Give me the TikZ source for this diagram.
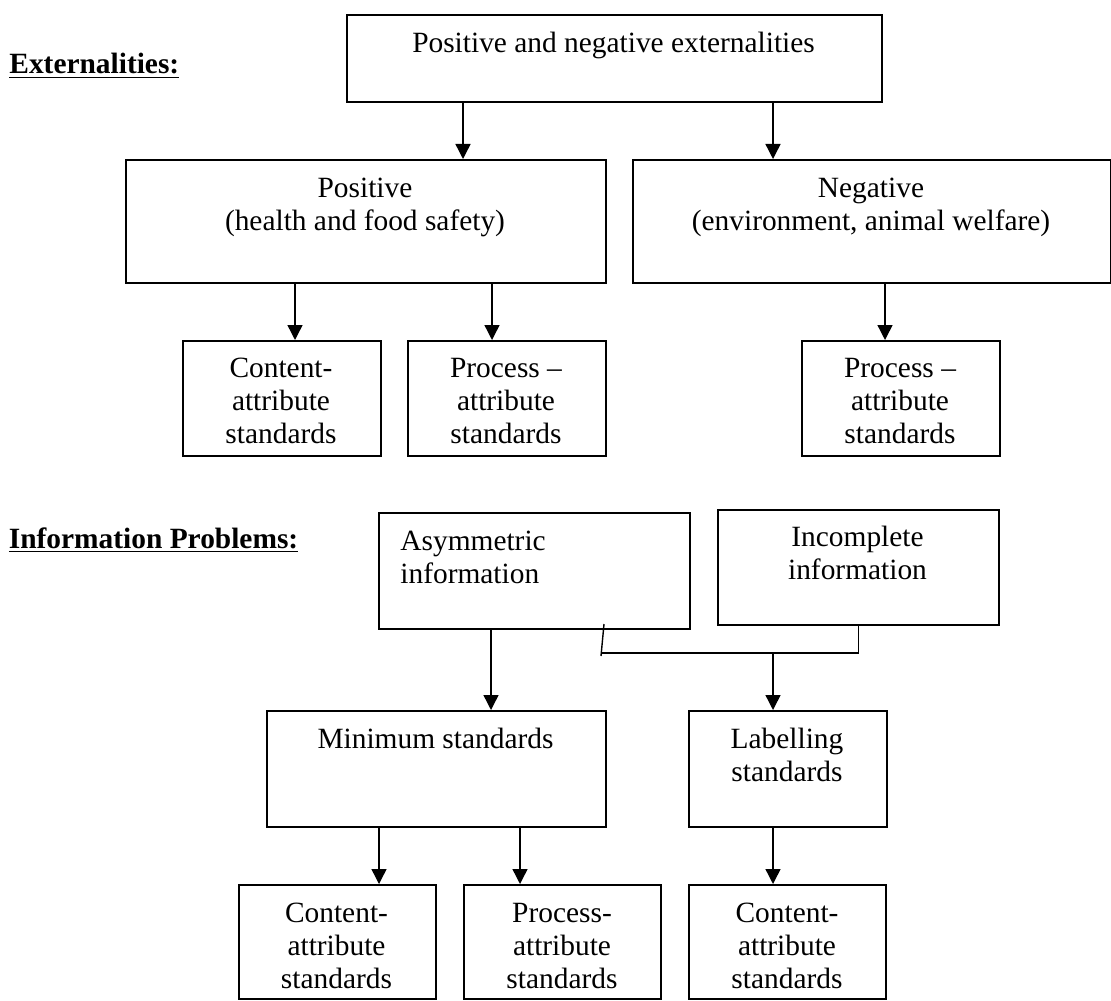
\documentclass[tikz,border=0pt]{standalone}
\usepackage{fontspec}
\setmainfont{Liberation Serif}
\usetikzlibrary{arrows.meta}

\begin{document}
\begin{tikzpicture}[x=0.5pt,y=-0.5pt,
  box/.style={draw, line width=1pt, anchor=north west, inner sep=0pt},
  txt/.style={anchor=base, align=center, inner sep=0pt, font=\fontsize{14.7}{16.5}\selectfont},
  head/.style={txt, anchor=base west, font=\fontsize{14.7}{16.5}\selectfont\bfseries},
  arr/.style={line width=0.7pt, -{Triangle[length=7.5pt,width=7.5pt]}},
  lnk/.style={line width=0.7pt}]
% Page size in pixels of the original
\useasboundingbox (0,0) rectangle (1111,1000);

% Externalities (text nodes sit on the baseline of their last line)
\node[head] (extHead) at (9,74) {\underline{Externalities:}};
\node[box, minimum width=267.5pt, minimum height=43.5pt] (ext) at (346,14) {};
\node[txt] (extT) at (613.5,53) {Positive and negative externalities};
\node[box, minimum width=240pt, minimum height=61.5pt] (pos) at (125,159) {};
\node[txt] (posT) at (365,230) {Positive\\(health and food safety)};
\node[box, minimum width=239pt, minimum height=61.5pt] (neg) at (632,159) {};
\node[txt] (negT) at (871,230) {Negative\\(environment, animal welfare)};
\node[box, minimum width=99pt, minimum height=57.5pt] (pcont) at (182,340) {};
\node[txt] (pcontT) at (281,443) {Content-\\attribute\\standards};
\node[box, minimum width=99pt, minimum height=57.5pt] (pproc) at (407,340) {};
\node[txt] (pprocT) at (506,443) {Process --\\attribute\\standards};
\node[box, minimum width=99pt, minimum height=57.5pt] (nproc) at (801,340) {};
\node[txt] (nprocT) at (900,443) {Process --\\attribute\\standards};

\draw[arr] (ext.south -| 463,0) -- (pos.north -| 463,0);
\draw[arr] (ext.south -| 773,0) -- (neg.north -| 773,0);
\draw[arr] (pos.south -| 295,0) -- (pcont.north -| 295,0);
\draw[arr] (pos.south -| 492,0) -- (pproc.north -| 492,0);
\draw[arr] (neg.south -| 885,0) -- (nproc.north -| 885,0);

% Information problems
\node[head] (infHead) at (8.5,548) {\underline{Information Problems:}};
\node[box, minimum width=155.5pt, minimum height=58pt] (asym) at (378,512) {};
\node[txt, anchor=base west, align=left] (asymT) at (400,583) {Asymmetric\\information};
\node[box, minimum width=140.5pt, minimum height=57.5pt] (incomp) at (717,509) {};
\node[txt] (incompT) at (857.5,579) {Incomplete\\information};
\node[box, minimum width=169.5pt, minimum height=58pt] (mins) at (266,710) {};
\node[txt] (minsT) at (435.5,748) {Minimum standards};
\node[box, minimum width=99pt, minimum height=58pt] (lab) at (688,710) {};
\node[txt] (labT) at (787,781) {Labelling\\standards};
\node[box, minimum width=98.5pt, minimum height=57pt] (bcont) at (238,884) {};
\node[txt] (bcontT) at (336.5,988) {Content-\\attribute\\standards};
\node[box, minimum width=98.5pt, minimum height=57pt] (bproc) at (463,884) {};
\node[txt] (bprocT) at (562,988) {Process-\\attribute\\standards};
\node[box, minimum width=98.5pt, minimum height=57pt] (bcont2) at (688,884) {};
\node[txt] (bcont2T) at (787,988) {Content-\\attribute\\standards};

\coordinate (join) at (602,653);
\draw[lnk] (incomp.south) |- (join);
\draw[lnk] (604,624) -- (601,656);
\draw[arr] (asym.south -| 491,0) -- (mins.north -| 491,0);
\draw[arr] (join -| 773,0) -- (lab.north -| 773,0);
\draw[arr] (mins.south -| 379,0) -- (bcont.north -| 379,0);
\draw[arr] (mins.south -| 520,0) -- (bproc.north -| 520,0);
\draw[arr] (lab.south -| 773,0) -- (bcont2.north -| 773,0);
\end{tikzpicture}
\end{document}
